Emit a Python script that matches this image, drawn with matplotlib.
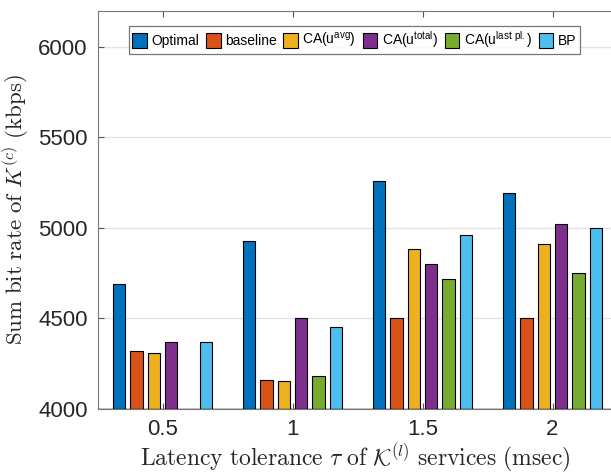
import numpy as np
import matplotlib.pyplot as plt
from matplotlib.font_manager import FontProperties

plt.rcParams['mathtext.fontset'] = 'cm'
plt.rcParams['mathtext.rm'] = 'Liberation Sans'
plt.rcParams['font.family'] = ['Liberation Sans', 'DejaVu Sans']

# latency tolerance groups
tau_labels = ['0.5', '1', '1.5', '2']

# sum bit rate (kbps) per scheme
optimal = [4690, 4930, 5260, 5193]
baseline = [4322, 4158, 4505, 4505]
ca_avg = [4308, 4155, 4882, 4912]
ca_total = [4370, 4500, 4803, 5022]
ca_last = [np.nan, 4184, 4720, 4753]
bp = [4372, 4455, 4961, 5002]

series = [optimal, baseline, ca_avg, ca_total, ca_last, bp]
names = ['Optimal', 'baseline',
         r'CA(u$^{\mathrm{avg}}$)', r'CA(u$^{\mathrm{total}}$)',
         r'CA(u$^{\mathrm{last\ pl.}}$)', 'BP']
colors = ['#0072BD', '#D95319', '#EDB120', '#7E2F8E', '#77AC30', '#4DBEEE']

fig = plt.figure(figsize=(6.11, 4.74), dpi=100)
ax = fig.add_axes([97.5 / 611, 65 / 474, 520 / 611, 398.5 / 474])

x = np.arange(1, len(tau_labels) + 1)
pitch = 0.8 / len(series)
width = 0.093
for i, (vals, name, col) in enumerate(zip(series, names, colors)):
    off = (i - (len(series) - 1) / 2) * pitch
    ax.bar(x + off, vals, width, color=col, edgecolor='black',
           linewidth=0.8, label=name, zorder=3)

ax.axhline(4000, color='black', linewidth=1.0, zorder=4)
ax.set_xlim(0.5, 4.5)
ax.set_ylim(4000, 6200)
ax.set_xticks(x)
ax.set_xticklabels(tau_labels)
ax.set_yticks([4000, 4500, 5000, 5500, 6000])
ax.grid(axis='y', color='#e3e3e3', linewidth=1.0, zorder=0)
ax.tick_params(direction='in', length=4, width=0.8, color='#555555',
               labelsize=16, labelcolor='#262626', top=True, right=True)
ax.tick_params(axis='x', pad=7)
ax.tick_params(axis='y', pad=7)
for s in ax.spines.values():
    s.set_color('#777777')
    s.set_linewidth(0.8)

ax.set_ylabel(r'$\mathrm{Sum\ bit\ rate\ of\ }K^{(c)}\mathrm{\ (kbps)}$',
              fontsize=16.5, color='#262626', labelpad=5)
ax.set_xlabel(r'$\mathrm{Latency\ tolerance\ }\tau\mathrm{\ of\ }\mathcal{K}^{(l)}\mathrm{\ services\ (msec)}$',
              fontsize=17, color='#262626')
ax.xaxis.set_label_coords(0.495, -0.082)
for lab in (ax.xaxis.label, ax.yaxis.label):
    lab.set_math_fontfamily('cm')

leg_font = FontProperties(family='Liberation Sans', size=10,
                          math_fontfamily='custom')
leg = fig.legend(loc='upper left', bbox_to_anchor=(129 / 611, 1 - 26 / 474),
                 ncol=6, prop=leg_font, handlelength=1.05, handleheight=1.25,
                 handletextpad=0.3, columnspacing=0.5, borderpad=0.25,
                 borderaxespad=0, frameon=True, fancybox=False)
leg.get_frame().set_edgecolor('#555555')
leg.get_frame().set_linewidth(0.9)

fig.savefig('out.png', dpi=100)
